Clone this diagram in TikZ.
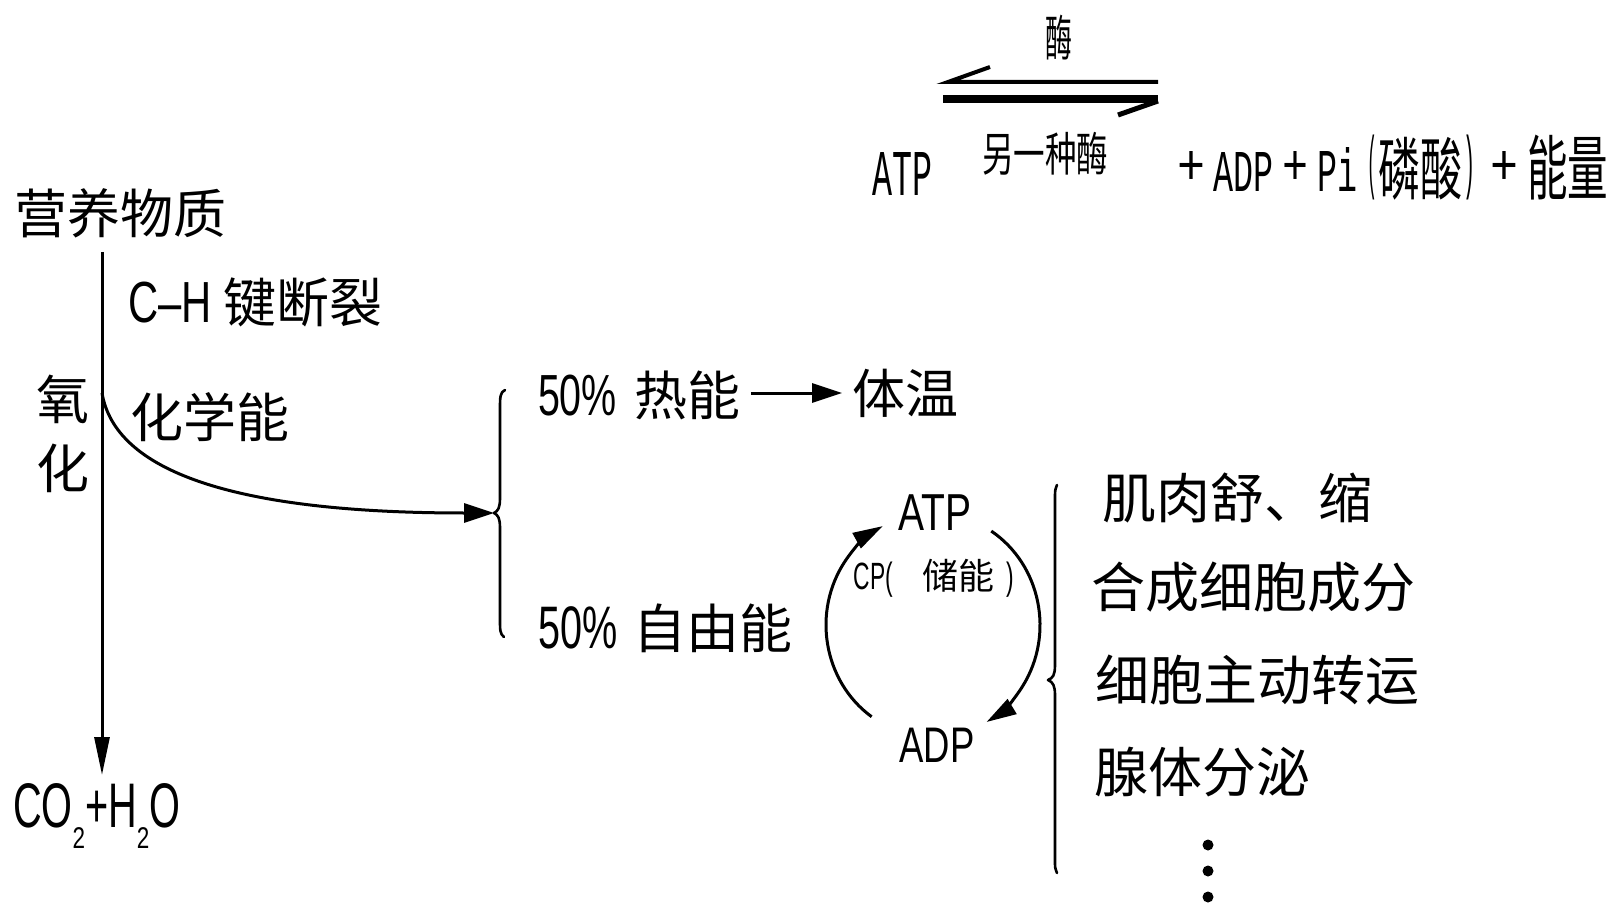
\documentclass[tikz,border=0pt]{standalone}
\usepackage{fontspec}
\usepackage{graphicx}
\setmainfont{Noto Sans CJK SC}
\newfontfamily\latfont{Liberation Sans}
\newfontfamily\pixfont{Liberation Mono}
\newfontfamily\cjkfont{Noto Sans CJK SC}
\usetikzlibrary{arrows.meta}
\newcommand\LatT[3]{{\fontsize{#1}{#1}\selectfont\latfont\scalebox{#2}[1]{#3}}}
\newcommand\CJ[2]{{\fontsize{#1}{#1}\selectfont\cjkfont #2}}
\newcommand\PB[4]{\raisebox{-#3}{\resizebox*{#1}{#2}{\raisebox{\depth}{#4}}}}
\tikzset{
  lbl/.style={inner sep=0pt, outer sep=0pt},
  cj/.style={lbl, font=\fontsize{53}{53}\selectfont\cjkfont},
  cjl/.style={lbl, anchor=west, font=\fontsize{54}{54}\selectfont\cjkfont},
  conn/.style={line width=3pt, -{Triangle[length=30pt,width=17pt]}},
  bracestyle/.style={line width=2.6pt, line cap=round, line join=round},
}
\begin{document}
\begin{tikzpicture}[x=1pt,y=-1pt]
\useasboundingbox (0,0) rectangle (1612,904);

% ---------- top equation ----------
\node[lbl] (atpT) at (902,173.5) {\resizebox{60pt}{43pt}{\pixfont ATP}};
\node[lbl] (enz1) at (1058.5,37.5) {\resizebox*{27pt}{45pt}{\cjkfont 酶}};
\node[lbl] (enz2) at (1045,153.5) {\resizebox*{126pt}{43pt}{\cjkfont 另一种酶}};
\node[lbl, anchor=base west] (prod) at (1177,192) {%
  \PB{28pt}{33pt}{-7pt}{\pixfont +}\hspace{8pt}%
  \PB{60pt}{39pt}{0pt}{\pixfont ADP}\hspace{9pt}%
  \PB{26pt}{33pt}{-7pt}{\pixfont +}\hspace{9pt}%
  \PB{40pt}{44pt}{0pt}{\pixfont Pi}\hspace{10pt}%
  \PB{10pt}{65pt}{8pt}{\pixfont (}\hspace{1pt}%
  \PB{84pt}{63pt}{8pt}{\cjkfont 磷酸}\hspace{1pt}%
  \PB{12pt}{65pt}{8pt}{\pixfont )}\hspace{15pt}%
  \PB{28pt}{33pt}{-7pt}{\pixfont +}\hspace{9pt}%
  \PB{81pt}{65pt}{8pt}{\cjkfont 能量}};
\coordinate (hTl) at (948,82);
\coordinate (hTr) at (1158,82);
\coordinate (hTb) at (990,67);
\coordinate (hBl) at (943,99);
\coordinate (hBr) at (1158,99);
\coordinate (hBb) at (1118,115);
\draw[line width=4pt] (hTr) -- (hTl) -- (hTb);
\draw[line width=8pt] (hBl) -- (hBr);
\draw[line width=5pt] ([yshift=-2pt]hBr) -- (hBb);

% ---------- left column ----------
\node[cj] (ys) at (120,213) {营养物质};
\node[cj, align=center, font=\fontsize{53}{69}\selectfont\cjkfont] (yh) at (63,434) {氧\\化};
\node[lbl, anchor=base west] (ch) at (128,322) {\LatT{58}{0.72}{C–H}\hspace{12pt}\CJ{53}{键断裂}};
\node[cj] (hx) at (210,417) {化学能};
\node[lbl, anchor=base west] (co2) at (13,827)
  {\LatT{63}{0.63}{CO}\raisebox{-21pt}{\LatT{30}{0.75}{2}}\LatT{63}{0.63}{+H}\raisebox{-21pt}{\LatT{30}{0.75}{2}}\LatT{63}{0.63}{O}};
\coordinate (vtop) at (102,252);
\coordinate (vbot) at (102,775);
\draw[line width=3pt, -{Triangle[length=38pt,width=15pt]}] (vtop) -- (vbot);
\coordinate (cs) at (102,393);
\coordinate (b1tip) at (494,513);
\draw[conn, -{Triangle[length=30pt,width=19pt]}] (cs) .. controls (115,470) and (230,513) .. (b1tip);

% ---------- first brace ----------
\draw[bracestyle] (505,390) .. controls (500,392) and (500,398) .. (500,408) -- (500,498)
  .. controls (500,508) and (498,511) .. (b1tip)
  .. controls (498,515) and (500,518) .. (500,528) -- (500,620)
  .. controls (500,630) and (500,634) .. (504,637);

% ---------- middle ----------
\node[lbl, anchor=base west] (re) at (538,415) {\LatT{58}{0.68}{50\%}\hspace{18pt}\CJ{53}{热能}};
\node[cj] (tw) at (905,393) {体温};
\draw[conn, -{Triangle[length=30pt,width=19pt]}] (re.east |- tw) ++(10,0) coordinate (a1s) -- ([xshift=-10pt]tw.west);
\node[lbl, anchor=base west] (zy) at (538,648) {\LatT{60}{0.66}{50\%}\hspace{16pt}\CJ{53}{自由能}};

\node[lbl] (atp) at (935,513) {\LatT{52}{0.75}{ATP}};
\node[lbl] (adp) at (937,745) {\LatT{50}{0.73}{ADP}};
\node[lbl] (cp) at (934,578) {\LatT{38}{0.6}{CP(}\hspace{30pt}\CJ{36}{储能}\hspace{12pt}\LatT{38}{0.6}{)}};

\coordinate (cen) at (933,625);
\draw[conn, -{Triangle[length=30pt,width=17pt]}] (cen) ++(125:107 and 112) coordinate (la)
  arc[start angle=125, end angle=242, x radius=107, y radius=112];
\draw[conn, -{Triangle[length=30pt,width=17pt]}] (cen) ++(-57:107 and 112) coordinate (ra)
  arc[start angle=-57, end angle=60, x radius=107, y radius=112];

% ---------- second brace ----------
\draw[bracestyle] (1057,485) .. controls (1055,490) .. (1055,500) -- (1055,665)
  .. controls (1055,675) and (1053,678) .. (1048,680)
  .. controls (1053,682) and (1055,686) .. (1055,695) -- (1055,860)
  .. controls (1055,868) .. (1057,873);

% ---------- right list ----------
\node[cjl] (u1) at (1102,498) {肌肉舒、缩};
\node[cjl] (u2) at (1091,587) {合成细胞成分};
\node[cjl] (u3) at (1095,680) {细胞主动转运};
\node[cjl] (u4) at (1094,772) {腺体分泌};
\fill (1208,845) circle (5.5);
\fill (1208,871) circle (5.5);
\fill (1208,897) circle (5.5);
\end{tikzpicture}
\end{document}
